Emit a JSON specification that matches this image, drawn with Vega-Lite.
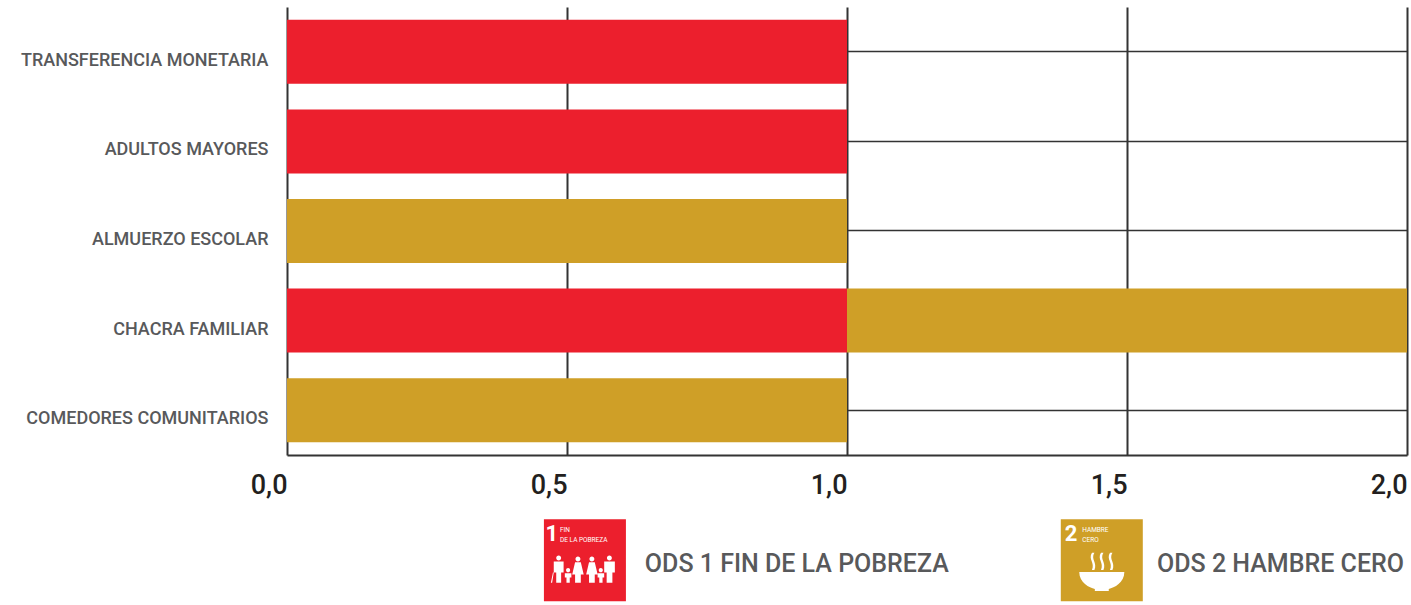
{
"$schema":"https://vega.github.io/schema/vega-lite/v6.json",
"width":1120,"height":448,
"autosize":"none",
"padding":{"left":287,"top":7,"right":4,"bottom":150},
"background":"white",
"datasets":{
"bars":[
{"programa":"TRANSFERENCIA MONETARIA","ods":"ODS 1 FIN DE LA POBREZA","valor":1},
{"programa":"ADULTOS MAYORES","ods":"ODS 1 FIN DE LA POBREZA","valor":1},
{"programa":"ALMUERZO ESCOLAR","ods":"ODS 2 HAMBRE CERO","valor":1},
{"programa":"CHACRA FAMILIAR","ods":"ODS 1 FIN DE LA POBREZA","valor":1},
{"programa":"CHACRA FAMILIAR","ods":"ODS 2 HAMBRE CERO","valor":1},
{"programa":"COMEDORES COMUNITARIOS","ods":"ODS 2 HAMBRE CERO","valor":1}
],
"leyenda":[
{"ods":"ODS 1 FIN DE LA POBREZA","cuadro":0.532,"etiqueta":0.639,"numero":"1","xnum":0.4727,"caption":"FIN\nDE LA POBREZA","xcap":0.4875},
{"ods":"ODS 2 HAMBRE CERO","cuadro":1.455,"etiqueta":1.5536,"numero":"2","xnum":1.4,"caption":"HAMBRE\nCERO","xcap":1.42}
]
},
"config":{"view":{"stroke":null}},
"layer":[
{"data":{"name":"bars"},
"mark":{"type":"bar","cornerRadius":0},
"encoding":{
"y":{"field":"programa","type":"nominal","title":null,
"scale":{"domain":["TRANSFERENCIA MONETARIA","ADULTOS MAYORES","ALMUERZO ESCOLAR","CHACRA FAMILIAR","COMEDORES COMUNITARIOS"],"paddingInner":0.286,"paddingOuter":0.143},
"axis":{"ticks":false,"domain":false,"grid":true,"gridColor":"#333333","gridWidth":1.5,"labelFont":"Roboto","labelFontSize":18,"labelFontWeight":500,"labelColor":"#58595b","labelPadding":19,"labelLimit":285,"labelOffset":9}},
"x":{"field":"valor","type":"quantitative","stack":"zero","title":null,
"scale":{"domain":[0,2],"nice":false},
"axis":{"values":[0,0.5,1,1.5,2],"ticks":false,"domain":true,"domainColor":"#333333","domainWidth":2,"grid":true,"gridColor":"#333333","gridWidth":2,"labelAlign":"right","labelBaseline":"top","labelPadding":17,"labelFont":"Roboto","labelFontSize":27,"labelFontWeight":500,"labelColor":"#231f20","labelFlush":false,"labelOverlap":false,"labelExpr":"replace(format(datum.value,'.1f'),'.',',')"}},
"color":{"field":"ods","type":"nominal",
"scale":{"domain":["ODS 1 FIN DE LA POBREZA","ODS 2 HAMBRE CERO"],"range":["#ec1f2d","#cf9f27"]},
"legend":null}
}},
{"data":{"name":"leyenda"},
"mark":{"type":"point","filled":true,"opacity":1,"size":6724,"strokeWidth":0},
"encoding":{
"x":{"field":"cuadro","type":"quantitative"},
"y":{"datum":"COMEDORES COMUNITARIOS"},
"yOffset":{"value":182},
"color":{"field":"ods","type":"nominal","legend":null},
"shape":{"field":"ods","type":"nominal","legend":null,"scale":{"domain":["ODS 1 FIN DE LA POBREZA","ODS 2 HAMBRE CERO"],"range":[
"M-1,-1H1V1H-1Z M-0.7,-0.056a0.06,0.06 0 1 0 0.12,0a0.06,0.06 0 1 0 -0.12,0Z M-0.76,0.03V0.3H-0.7V0.55H-0.58V0.3H-0.52V0.03Z M-0.83,0.55L-0.8,0.55L-0.76,0.3L-0.78,0.3Z M-0.46,0.242a0.05,0.05 0 1 0 0.1,0a0.05,0.05 0 1 0 -0.1,0Z M-0.49,0.32V0.42H-0.45V0.55H-0.37V0.42H-0.33V0.32Z M-0.23,-0.03a0.06,0.06 0 1 0 0.12,0a0.06,0.06 0 1 0 -0.12,0Z M-0.24,0.05L-0.31,0.35H-0.24V0.55H-0.1V0.35H-0.03L-0.1,0.05Z M0.11,-0.03a0.06,0.06 0 1 0 0.12,0a0.06,0.06 0 1 0 -0.12,0Z M0.1,0.05L0.03,0.35H0.1V0.55H0.24V0.35H0.31L0.24,0.05Z M0.337,0.242a0.05,0.05 0 1 0 0.1,0a0.05,0.05 0 1 0 -0.1,0Z M0.31,0.32V0.42H0.35V0.55H0.43V0.42H0.47V0.32Z M0.537,-0.056a0.06,0.06 0 1 0 0.12,0a0.06,0.06 0 1 0 -0.12,0Z M0.47,0.03V0.3H0.53V0.55H0.67V0.3H0.73V0.03Z",
"M-1,-1H1V1H-1Z M-0.55,0.29C-0.55,0.55 -0.3,0.68 -0.17,0.7V0.75H0.17V0.7C0.3,0.68 0.55,0.55 0.55,0.29Z M-0.24,-0.18C-0.34,-0.02 -0.16,0.06 -0.24,0.24H-0.18C-0.1,0.06 -0.28,-0.02 -0.18,-0.18Z M-0.02,-0.18C-0.12,-0.02 0.06,0.06 -0.02,0.24H0.04C0.12,0.06 -0.06,-0.02 0.04,-0.18Z M0.2,-0.18C0.1,-0.02 0.28,0.06 0.2,0.24H0.26C0.34,0.06 0.16,-0.02 0.26,-0.18Z"
]}}
}},
{"data":{"name":"leyenda"},
"mark":{"type":"text","font":"Roboto","fontSize":25,"fontWeight":500,"fill":"#58595b","baseline":"middle","align":"left","dy":154},
"encoding":{"x":{"field":"etiqueta","type":"quantitative"},"y":{"datum":"COMEDORES COMUNITARIOS"},"text":{"field":"ods"}}},
{"data":{"name":"leyenda"},
"mark":{"type":"text","font":"Roboto","fontWeight":"bold","fontSize":22,"fill":"white","baseline":"middle","align":"center","dy":124},
"encoding":{"x":{"field":"xnum","type":"quantitative"},"y":{"datum":"COMEDORES COMUNITARIOS"},"text":{"field":"numero"}}},
{"data":{"name":"leyenda"},
"mark":{"type":"text","font":"Roboto","fontSize":6.5,"fill":"white","baseline":"top","align":"left","dy":117,"lineBreak":"\n","lineHeight":10},
"encoding":{"x":{"field":"xcap","type":"quantitative"},"y":{"datum":"COMEDORES COMUNITARIOS"},"text":{"field":"caption"}}}
]
}
